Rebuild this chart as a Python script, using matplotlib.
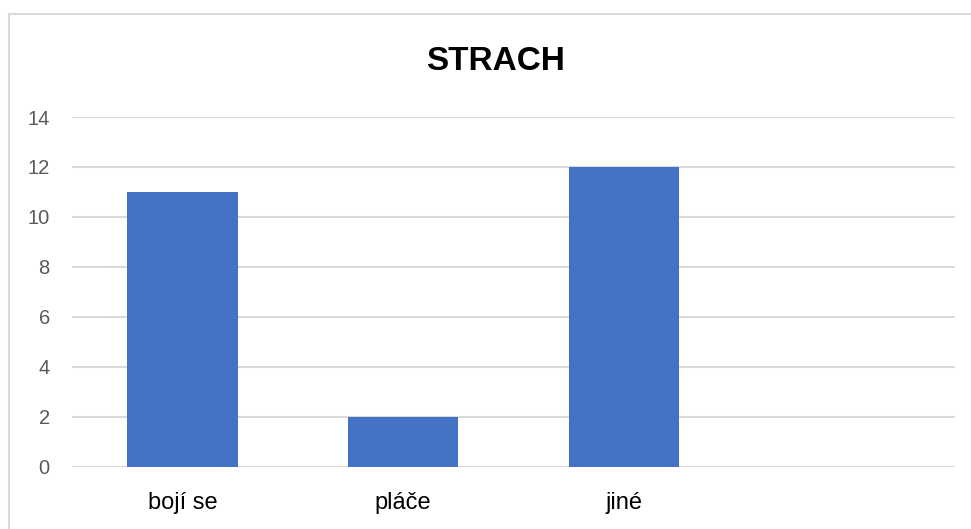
import matplotlib.pyplot as plt
from matplotlib.patches import Rectangle

# strach - counts per category, last slot is left empty
categories = ["bojí se", "pláče", "jiné", ""]
counts = [11, 2, 12, 0]
title = "STRACH"
y_ticks = [0, 2, 4, 6, 8, 10, 12, 14]

plt.rcParams['font.family'] = ['Liberation Sans', 'DejaVu Sans']

fig = plt.figure(figsize=(9.71, 5.29), dpi=100)
ax = fig.add_axes([72 / 971, 62.3 / 529, (955 - 72) / 971, (466.7 - 117) / 529])

# chart area border
fig.patches.append(Rectangle((8.5 / 971, -0.05), 1.0, (529 - 13.5) / 529 + 0.05,
                             transform=fig.transFigure, fill=False,
                             edgecolor="#d9d9d9", linewidth=1.5))

x = list(range(len(categories)))
ax.bar(x, counts, width=0.5, color="#4472c4", zorder=3)
ax.set_xlim(-0.5, len(categories) - 0.5)
ax.set_ylim(0, 14)
ax.set_yticks(y_ticks)
ax.yaxis.grid(True, color="#d9d9d9", linewidth=1.5, zorder=0)
ax.set_xticks(x)
ax.set_xticklabels(categories, fontsize=17, color="black")
ax.tick_params(axis="x", length=0, pad=18)
ax.tick_params(axis="y", length=0, pad=16, labelsize=14.5, labelcolor="#595959")
for s in ax.spines.values():
    s.set_visible(False)

fig.text(496 / 971, 1 - 62 / 529, title, ha="center", va="center",
         fontsize=24, fontweight="bold")

plt.savefig("out.png", dpi=100)
